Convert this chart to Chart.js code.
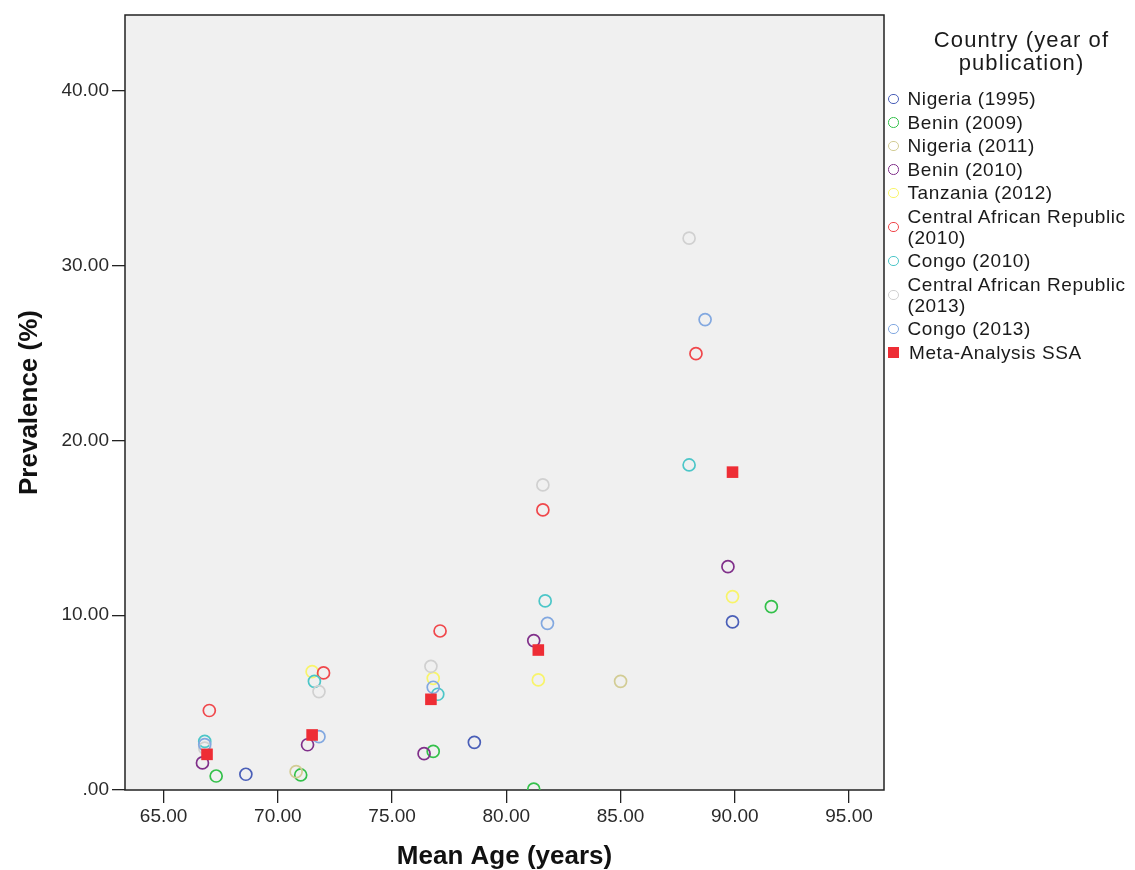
<!DOCTYPE html>
<html>
<head>
    <title>Prevalence by Mean Age</title>
    <script src="https://cdn.jsdelivr.net/npm/chart.js"></script>
    <style>
        body { margin: 0; background: #fff; font-family: Arial, "Liberation Sans", sans-serif; }
        #wrap { position: relative; width: 1135px; height: 870px; }
        #legend { position: absolute; left: 884px; top: 28px; width: 251px; color: #1a1a1a; }
        #legend .title { text-align: center; font-size: 22px; letter-spacing: 1.1px; line-height: 23.3px; margin-bottom: 13.8px; padding-left: 24px; }
        #legend .item { display: flex; align-items: center; font-size: 19px; letter-spacing: 0.6px; line-height: 21px; margin-bottom: 2.5px; white-space: nowrap; }
        #legend .mark { width: 8.5px; height: 8.5px; border-radius: 50%; border: 1.5px solid; margin: 0 9px 0 4px; flex: none; }
        #legend .mark.sq { border-radius: 0; width: 11px; height: 11px; border: none; margin: 0 10px 0 4px; }
    </style>
</head>
<body>
<div id="wrap">
    <canvas id="scatter" width="1135" height="870"></canvas>
    <div id="legend"></div>
</div>
<script>
    // series (mean age in years, prevalence in %)
    const seriesNames = ['Nigeria (1995)', 'Benin (2009)', 'Nigeria (2011)', 'Benin (2010)', 'Tanzania (2012)',
        'Central African Republic (2010)', 'Congo (2010)', 'Central African Republic (2013)', 'Congo (2013)', 'Meta-Analysis SSA'];
    const seriesColors = ['#4a5fb8', '#33c04a', '#d2cc94', '#80308a', '#f8f46a', '#f0474b', '#4cc6c8', '#d0d0d0', '#82a8e0', '#ee2d35'];

    const ageNigeria1995 = [68.6, 78.6, 89.9];
    const prevNigeria1995 = [0.90, 2.73, 9.62];
    const ageBenin2009 = [67.3, 71.0, 76.8, 81.2, 91.6];
    const prevBenin2009 = [0.80, 0.86, 2.21, 0.05, 10.49];
    const ageNigeria2011 = [70.8, 85.0];
    const prevNigeria2011 = [1.05, 6.22];
    const ageBenin2010 = [66.7, 71.3, 76.4, 81.2, 89.7];
    const prevBenin2010 = [1.55, 2.59, 2.08, 8.55, 12.78];
    const ageTanzania2012 = [71.5, 76.8, 81.4, 89.9];
    const prevTanzania2012 = [6.77, 6.39, 6.30, 11.07];
    const ageCar2010 = [67.0, 72.0, 77.1, 81.6, 88.3];
    const prevCar2010 = [4.55, 6.70, 9.10, 16.03, 24.97];
    const ageCongo2010 = [66.8, 71.6, 77.0, 81.7, 88.0];
    const prevCongo2010 = [2.78, 6.22, 5.48, 10.82, 18.60];
    const ageCar2013 = [66.8, 71.8, 76.7, 81.6, 88.0];
    const prevCar2013 = [2.40, 5.63, 7.08, 17.46, 31.58];
    const ageCongo2013 = [66.8, 71.8, 76.8, 81.8, 88.7];
    const prevCongo2013 = [2.60, 3.05, 5.88, 9.54, 26.92];
    const ageMeta = [66.9, 71.5, 76.7, 81.4, 89.9];
    const prevMeta = [2.04, 3.15, 5.19, 8.01, 18.19];

    const xTicks = [65, 70, 75, 80, 85, 90, 95];
    const yTicks = [0, 10, 20, 30, 40];

    const ages = [ageNigeria1995, ageBenin2009, ageNigeria2011, ageBenin2010, ageTanzania2012,
        ageCar2010, ageCongo2010, ageCar2013, ageCongo2013, ageMeta];
    const prevs = [prevNigeria1995, prevBenin2009, prevNigeria2011, prevBenin2010, prevTanzania2012,
        prevCar2010, prevCongo2010, prevCar2013, prevCongo2013, prevMeta];

    const datasets = seriesNames.map((name, i) => {
        const isMeta = i === seriesNames.length - 1;
        return {
            label: name,
            data: ages[i].map((a, j) => ({ x: a, y: prevs[i][j] })),
            pointStyle: isMeta ? 'rect' : 'circle',
            pointRadius: isMeta ? 8.2 : 6,
            pointHoverRadius: isMeta ? 8.2 : 6,
            borderWidth: isMeta ? 0 : 1.7,
            borderColor: seriesColors[i],
            backgroundColor: isMeta ? seriesColors[i] : 'rgba(0,0,0,0)',
            order: seriesNames.length - i
        };
    });

    // grey plot area with a dark frame, like the SPSS output
    const plotFrame = {
        id: 'plotFrame',
        beforeDatasetsDraw(chart) {
            const { ctx, chartArea: a } = chart;
            ctx.save();
            ctx.fillStyle = '#f0f0f0';
            ctx.fillRect(a.left, a.top, a.right - a.left, a.bottom - a.top);
            ctx.strokeStyle = '#222';
            ctx.lineWidth = 1.5;
            ctx.strokeRect(a.left, a.top, a.right - a.left, a.bottom - a.top);
            ctx.restore();
        }
    };

    const tickFont = { family: 'Arial, "Liberation Sans"', size: 19 };
    const titleFont = { family: '"Liberation Sans Narrow", "Arial Narrow", Arial', size: 26, weight: 'bold', lineHeight: 1 };

    new Chart(document.getElementById('scatter'), {
        type: 'scatter',
        data: { datasets: datasets },
        plugins: [plotFrame],
        options: {
            responsive: false,
            animation: false,
            layout: { padding: { left: 0, right: 251, top: 15, bottom: 0 } },
            plugins: { legend: { display: false }, tooltip: { enabled: false } },
            scales: {
                x: {
                    min: 63.31, max: 96.53,
                    afterBuildTicks: s => { s.ticks = xTicks.map(v => ({ value: v })); },
                    afterFit: s => { s.height = 80; },
                    border: { display: false },
                    grid: { drawOnChartArea: false, drawTicks: true, tickLength: 13, tickColor: '#222', lineWidth: 1.3 },
                    ticks: { padding: 2, color: '#2a2a2a', font: tickFont, maxRotation: 0, callback: v => v.toFixed(2) },
                    title: { display: true, text: 'Mean Age (years)', color: '#111', padding: { top: 0, bottom: 0 }, font: titleFont }
                },
                y: {
                    min: 0, max: 44.35,
                    afterBuildTicks: s => { s.ticks = yTicks.map(v => ({ value: v })); },
                    afterFit: s => { s.width = 125; },
                    border: { display: false },
                    grid: { drawOnChartArea: false, drawTicks: true, tickLength: 13, tickColor: '#222', lineWidth: 1.3 },
                    ticks: { padding: 3, color: '#2a2a2a', font: tickFont, callback: v => v === 0 ? '.00' : v.toFixed(2) },
                    title: { display: true, text: 'Prevalence (%)', color: '#111', padding: { top: 17, bottom: 0 }, font: titleFont }
                }
            }
        }
    });

    // legend built from the same arrays
    const legend = document.getElementById('legend');
    legend.innerHTML = '<div class="title">Country (year of<br>publication)</div>';
    seriesNames.forEach((name, i) => {
        const isMeta = i === seriesNames.length - 1;
        const row = document.createElement('div');
        row.className = 'item';
        const mark = document.createElement('span');
        mark.className = isMeta ? 'mark sq' : 'mark';
        if (isMeta) mark.style.background = seriesColors[i];
        else mark.style.borderColor = seriesColors[i];
        const text = document.createElement('span');
        text.innerHTML = name.replace('Republic ', 'Republic<br>');
        row.appendChild(mark);
        row.appendChild(text);
        legend.appendChild(row);
    });
</script>
</body>
</html>
